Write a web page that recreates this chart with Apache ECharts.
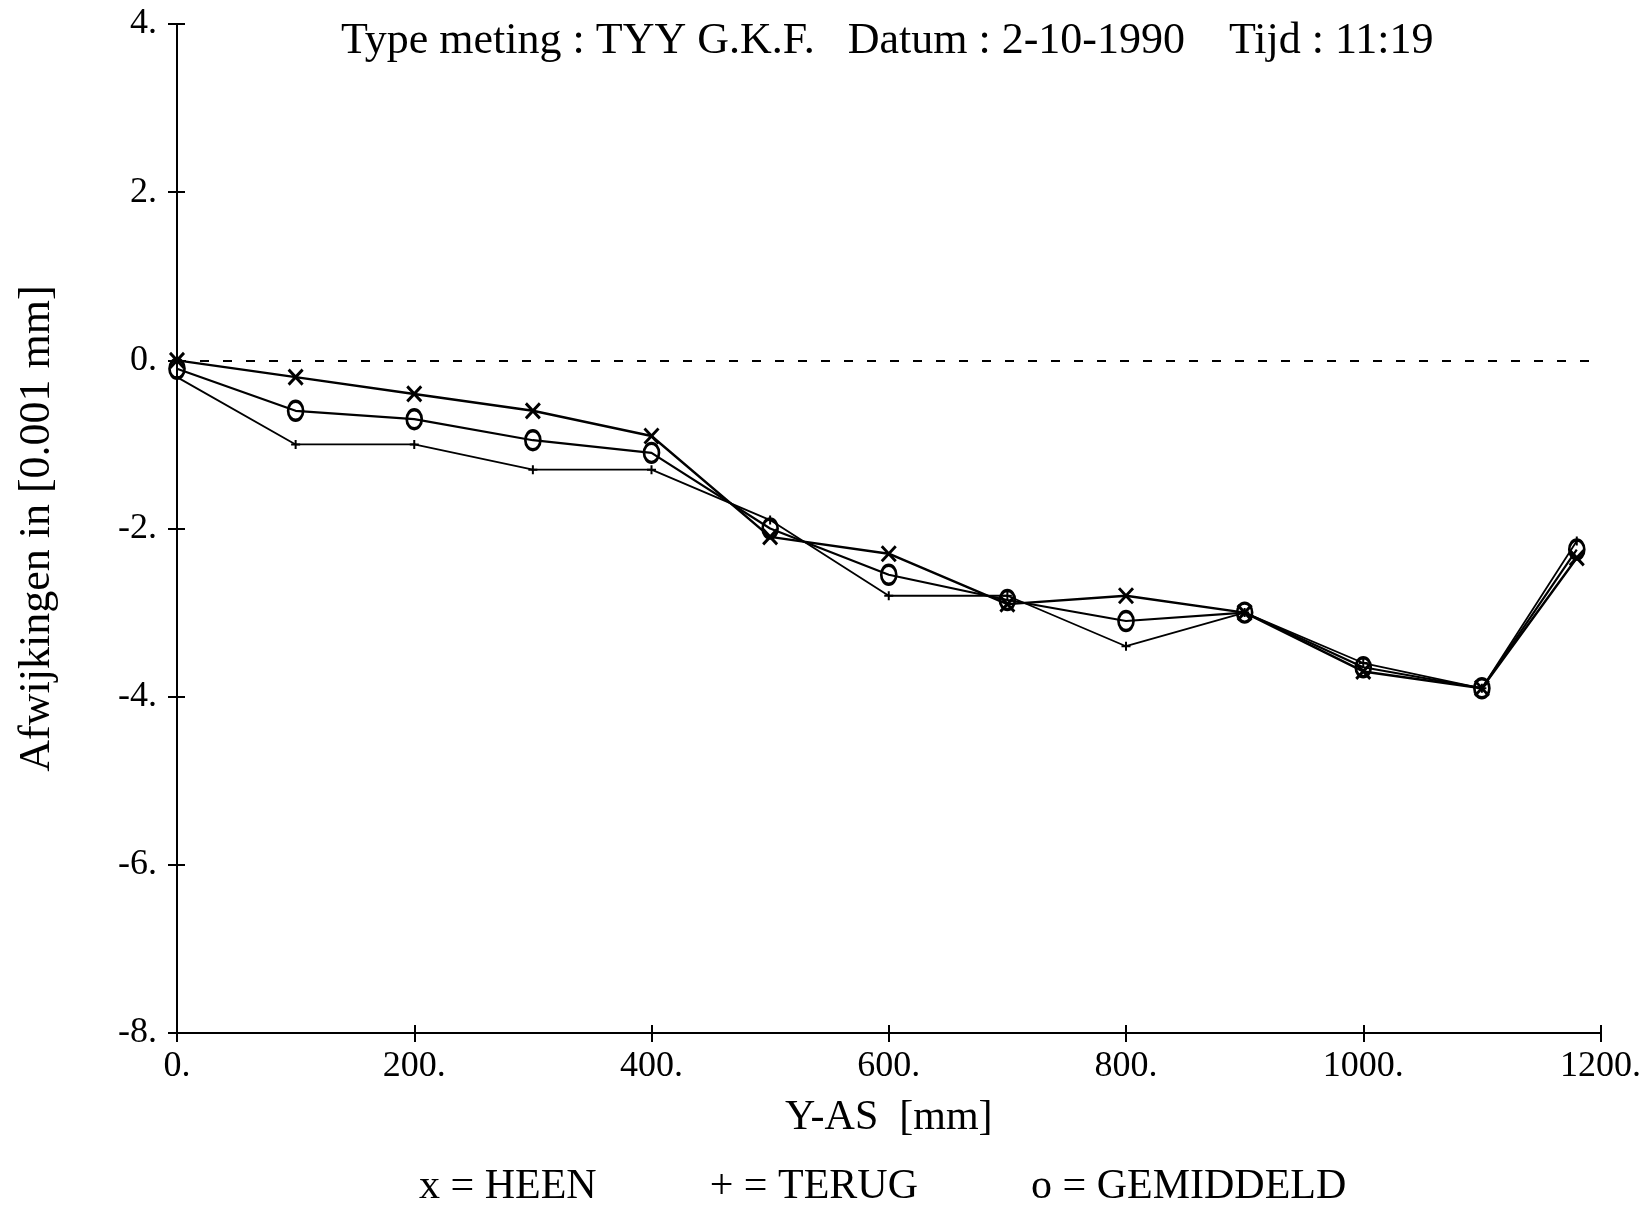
<!DOCTYPE html>
<html>
<head>
<meta charset="utf-8">
<script src="https://cdn.jsdelivr.net/npm/echarts@6/dist/echarts.min.js"></script>
<style>
  html, body { margin: 0; padding: 0; background: #fff; }
  #main { width: 1644px; height: 1212px; }
</style>
</head>
<body>
<div id="main"></div>
<script>
// meetpunten langs de Y-as [mm]
var posities = [0, 100, 200, 300, 400, 500, 600, 700, 800, 900, 1000, 1100, 1180];
// afwijkingen in [0.001 mm]
var heen      = [0, -0.2, -0.4, -0.6, -0.9, -2.1, -2.3, -2.9, -2.8, -3.0, -3.7, -3.9, -2.35];
var terug     = [-0.2, -1.0, -1.0, -1.3, -1.3, -1.9, -2.8, -2.8, -3.4, -3.0, -3.6, -3.9, -2.15];
var gemiddeld = [-0.1, -0.6, -0.7, -0.95, -1.1, -2.0, -2.55, -2.85, -3.1, -3.0, -3.65, -3.9, -2.25];

var serif = 'Liberation Serif';
var tekens = { 'HEEN': 'x', 'TERUG': '+', 'GEMIDDELD': 'o' };

function paren(ys) {
    return posities.map(function (x, i) { return [x, ys[i]]; });
}
function punt(v) { return v + '.'; }

var zwart = { color: '#000', width: 2 };

var myChart = echarts.init(document.getElementById('main'));
var option = {
    backgroundColor: '#fff',
    animation: false,
    title: {
        text: 'Type meting : TYY G.K.F.   Datum : 2-10-1990    Tijd : 11:19',
        left: 336,
        top: 14,
        textStyle: { fontFamily: serif, fontSize: 44, fontWeight: 'normal', color: '#000' }
    },
    legend: {
        bottom: -1,
        left: 409,
        icon: 'none',
        itemWidth: 0,
        itemGap: 108,
        data: ['HEEN', 'TERUG', 'GEMIDDELD'],
        formatter: function (name) { return tekens[name] + ' = ' + name; },
        textStyle: { fontFamily: serif, fontSize: 42, color: '#000' }
    },
    grid: { left: 177, right: 43, top: 24, bottom: 179 },
    xAxis: [{
        type: 'value',
        min: 0, max: 1200, interval: 200,
        name: 'Y-AS  [mm]',
        nameLocation: 'middle',
        nameGap: 64,
        nameTextStyle: { fontFamily: serif, fontSize: 42, color: '#000' },
        axisLine: { onZero: false, lineStyle: zwart },
        axisTick: { length: 9, lineStyle: zwart },
        axisLabel: { margin: 16, fontFamily: serif, fontSize: 36, color: '#000', formatter: punt },
        splitLine: { show: false }
    }, {
        // tweede as op dezelfde plek, alleen voor de tickstreepjes binnen het vlak
        type: 'value',
        position: 'bottom',
        min: 0, max: 1200, interval: 200,
        axisLine: { show: false, onZero: false },
        axisTick: { inside: true, length: 8, lineStyle: zwart },
        axisLabel: { show: false },
        splitLine: { show: false }
    }],
    yAxis: [{
        type: 'value',
        min: -8, max: 4, interval: 2,
        name: 'Afwijkingen in [0.001 mm]',
        nameLocation: 'middle',
        nameGap: 118,
        nameRotate: 90,
        nameTextStyle: { fontFamily: serif, fontSize: 44, color: '#000' },
        axisLine: { show: true, onZero: false, lineStyle: zwart },
        axisTick: { show: true, length: 9, lineStyle: zwart },
        axisLabel: { margin: 20, fontFamily: serif, fontSize: 36, color: '#000', formatter: punt },
        splitLine: { show: false }
    }, {
        type: 'value',
        position: 'left',
        min: -8, max: 4, interval: 2,
        axisLine: { show: false, onZero: false },
        axisTick: { show: true, inside: true, length: 8, lineStyle: zwart },
        axisLabel: { show: false },
        splitLine: { show: false }
    }],
    series: [
        {
            name: 'HEEN',
            type: 'line',
            data: paren(heen),
            symbol: 'path://M0,0L10,12M10,0L0,12',
            symbolSize: [14, 15],
            lineStyle: { color: '#000', width: 2.4 },
            itemStyle: { color: '#000', borderColor: '#000', borderWidth: 3 },
            markLine: {
                silent: true,
                symbol: 'none',
                label: { show: false },
                lineStyle: { color: '#000', width: 2, type: [9, 14] },
                data: [{ yAxis: 0 }]
            }
        },
        {
            name: 'TERUG',
            type: 'line',
            data: paren(terug),
            symbol: 'path://M5,0L5,10M0,5L10,5',
            symbolSize: 9,
            lineStyle: { color: '#000', width: 1.8 },
            itemStyle: { color: '#000', borderColor: '#000', borderWidth: 2 }
        },
        {
            name: 'GEMIDDELD',
            type: 'line',
            data: paren(gemiddeld),
            symbol: 'path://M0,9A7,9 0 1,0 14,9A7,9 0 1,0 0,9Z',
            symbolSize: [15, 19],
            lineStyle: { color: '#000', width: 2.2 },
            itemStyle: { color: 'none', borderColor: '#000', borderWidth: 3 }
        }
    ]
};
myChart.setOption(option);
</script>
</body>
</html>
